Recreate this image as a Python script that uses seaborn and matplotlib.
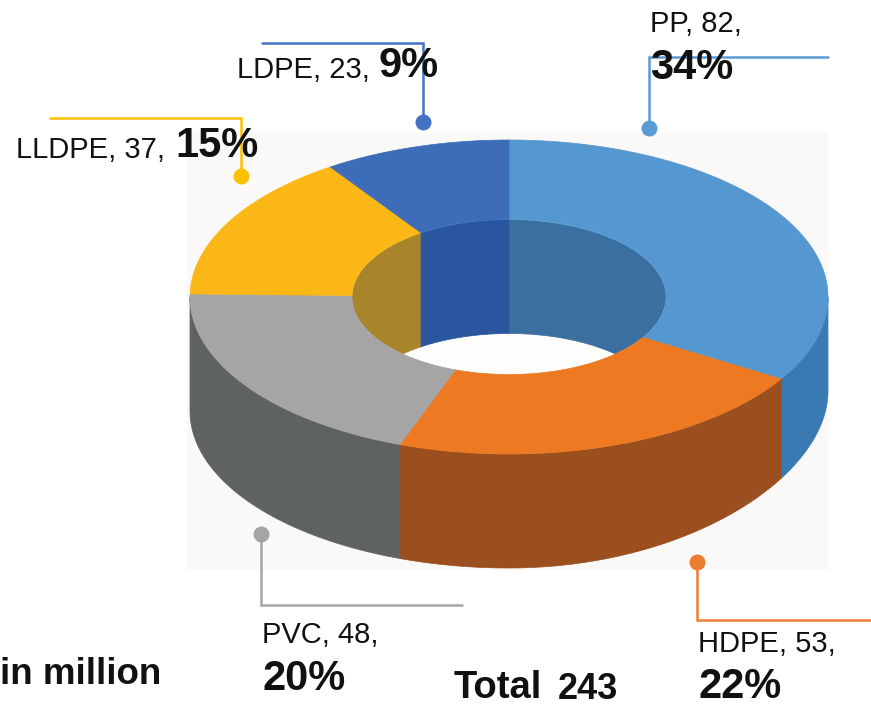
import numpy as np
import matplotlib
matplotlib.use("Agg")
import matplotlib.pyplot as plt
from matplotlib.patches import Ellipse, Rectangle
import seaborn as sns

names = ["PP", "HDPE", "PVC", "LLDPE", "LDPE"]
values = [82, 53, 48, 37, 23]
percents = ["34%", "22%", "20%", "15%", "9%"]
total = 243

top_colors = ["#5597d0", "#ed7a22", "#a5a5a5", "#fbb715", "#3d6cb8"]
wall_colors = ["#3a7ab2", "#9b4e1e", "#5f6262", "#a8852a", "#2a559f"]
inner_colors = ["#3a6fa0", "#9b4e1e", "#5f6262", "#a8852a", "#2a559f"]
line_colors = ["#5b9bd5", "#ed7d31", "#a5a5a5", "#ffc000", "#4472c4"]

# donut geometry in pixels
cx, cy = 509, 297
rx, ry = 319, 157
hx, hy = 157, 77.5
depth = 114
lift = 20  # the original wall gets shorter towards the right

sns.set_theme(style="white")
plt.rcParams["font.family"] = ["Liberation Sans", "DejaVu Sans"]

fig, ax = plt.subplots(figsize=(8.71, 7.07), dpi=100)
ax.set_position([0, 0, 1, 1])
ax.set_xlim(0, 871)
ax.set_ylim(707, 0)
ax.axis("off")


def arc(t0, t1, a, b, dy=0, sag=0):
    t = np.radians(np.linspace(t0, t1, 120))
    s = np.clip(np.sin(t), 0, 1)
    return np.column_stack([cx + a * np.sin(t), cy + dy - sag * s ** 2 - b * np.cos(t)])


ax.add_patch(Rectangle((187, 133), 641, 437, color="#faf9f7", lw=0, zorder=1))
hole = Ellipse((cx, cy), 2 * hx, 2 * hy, color="#fdfdfb", lw=0, zorder=2)
ax.add_patch(hole)

ends = np.cumsum(values) / total * 360
starts = np.concatenate([[0], ends[:-1]])

for i in range(len(values)):
    t0, t1 = starts[i], ends[i]

    # outer wall, front half only
    a, b = max(t0, 90), min(t1, 270)
    if a < b:
        pts = np.vstack([arc(a, b, rx, ry), arc(b, a, rx, ry, depth, lift)])
        ax.fill(pts[:, 0], pts[:, 1], color=wall_colors[i], lw=0.5, zorder=3)

    # inner wall, far half only, seen through the hole
    for a, b in [(max(t0, 270), min(t1, 360)), (max(t0, 0), min(t1, 90))]:
        if a < b:
            pts = np.vstack([arc(a, b, hx, hy), arc(b, a, hx, hy, depth)])
            wall = ax.fill(pts[:, 0], pts[:, 1], color=inner_colors[i], lw=0.5, zorder=3)[0]
            wall.set_clip_path(hole)

    # top face
    pts = np.vstack([arc(t0, t1, rx, ry), arc(t1, t0, hx, hy)])
    ax.fill(pts[:, 0], pts[:, 1], color=top_colors[i], lw=0.5, zorder=4)

# leader lines with their dots
leaders = [
    ([828, 649, 649], [57, 57, 128]),
    ([697, 697, 871], [562, 620, 620]),
    ([261, 261, 462], [534, 605, 605]),
    ([50, 241, 241], [118, 118, 176]),
    ([262, 423, 423], [43, 43, 122]),
]
dot_end = [-1, 0, 0, -1, -1]
for i, (xs, ys) in enumerate(leaders):
    ax.plot(xs, ys, color=line_colors[i], lw=1.8, solid_joinstyle="miter", zorder=5, clip_on=False)
    ax.plot(xs[dot_end[i]], ys[dot_end[i]], "o", color=line_colors[i], ms=11.5, mew=0, zorder=5)

# labels
label_pos = [(650, 32), (698, 652), (262, 643), (16, 158), (237, 78)]
pct_pos = [(650, 79), (698, 698), (262, 690), (175, 157), (378, 77)]
for i in range(len(values)):
    ax.text(*label_pos[i], f"{names[i]}, {values[i]},", fontsize=21, color="#111111",
            va="baseline", ha="left", zorder=6)
    ax.text(*pct_pos[i], percents[i], fontsize=30, fontweight="bold", color="#111111",
            va="baseline", ha="left", zorder=6)

ax.text(0, 684, "in million", fontsize=26.5, fontweight="bold", color="#111111", va="baseline", ha="left", zorder=6)
ax.text(454, 698, "Total", fontsize=27.5, fontweight="bold", color="#111111", va="baseline", ha="left", zorder=6)
ax.text(558, 699, str(total), fontsize=26, fontweight="bold", color="#111111", va="baseline", ha="left", zorder=6)

sns.despine(ax=ax, left=True, bottom=True)
fig.savefig("out.png", dpi=100)
